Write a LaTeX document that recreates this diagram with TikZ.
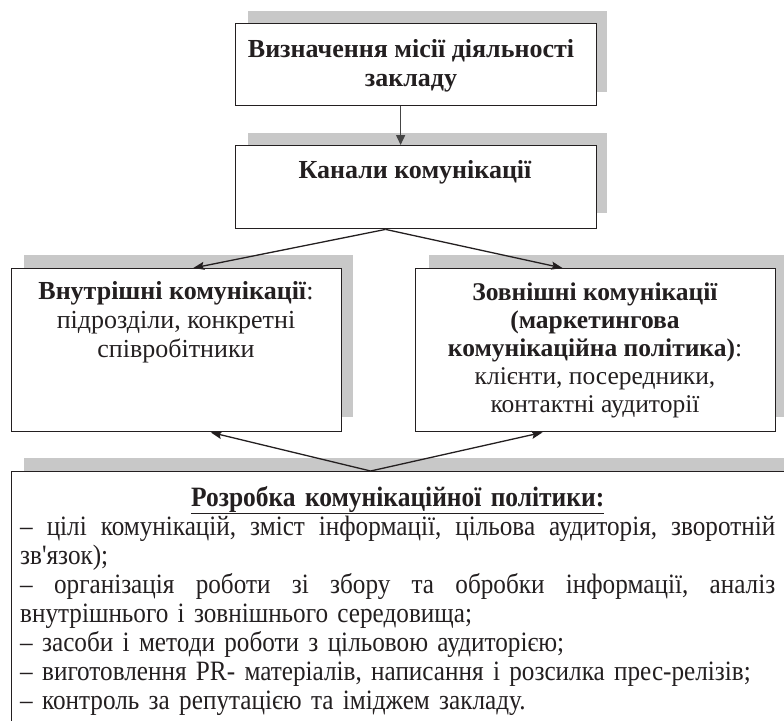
\documentclass[tikz,border=0pt]{standalone}
\usepackage{fontspec}
\setmainfont{Liberation Serif}
\newfontfamily\condfont[FakeStretch=0.9]{Liberation Serif}
\newfontfamily\condtitle[FakeStretch=0.91]{Liberation Serif}
\usetikzlibrary{arrows.meta,calc}
\definecolor{ink}{HTML}{231F20}
\definecolor{shade}{HTML}{C8C8C8}
\definecolor{darkarrow}{HTML}{454545}
\tikzset{
  box/.style={draw=ink, line width=1.4pt, fill=white, anchor=north west, inner sep=0pt},
  shadowbox/.style={fill=shade, draw=none},
  boxtext/.style={text=ink, align=center, inner sep=0pt, anchor=base},
  arr/.style={draw=ink, line width=1.3pt, -{Stealth[length=11pt,width=8pt,inset=2pt]}},
  grayarr/.style={draw=darkarrow, line width=1.5pt, -{Triangle[length=10pt,width=9pt]}},
}
\begin{document}
\begin{tikzpicture}[x=1pt,y=-1pt]
\useasboundingbox (0,0) rectangle (784,720);
\clip (0,0) rectangle (784,720);
% shadows
\fill[shadowbox] (248,11) rectangle (607,92);
\fill[shadowbox] (248,133) rectangle (607,213);
\fill[shadowbox] (24,255) rectangle (353,417);
\fill[shadowbox] (429,255) rectangle (790,417);
\fill[shadowbox] (24,458) rectangle (800,480);
% boxes
\node[box, minimum width=361pt, minimum height=82pt] (b1) at (235,23) {};
\node[box, minimum width=361pt, minimum height=83pt] (b2) at (235,145) {};
\node[box, minimum width=330pt, minimum height=163pt] (b3) at (11,268) {};
\node[box, minimum width=360pt, minimum height=163pt] (b4) at (415,268) {};
\node[box, minimum width=790pt, minimum height=300pt] (b5) at (11,471) {};
% texts (base = baseline of the last line)
\node[boxtext, font=\fontsize{26}{29}\selectfont\bfseries] (t1) at (411,86) {Визначення місії діяльності\\закладу};
\node[boxtext, font=\fontsize{26}{29}\selectfont\bfseries] (t2) at (415,178) {Канали комунікації};
\node[boxtext, font=\fontsize{26}{29}\selectfont] (t3) at (176,357) {\textbf{Внутрішні комунікації}:\\підрозділи, конкретні\\співробітники};
\node[boxtext, font=\fontsize{25.5}{28}\selectfont] (t4) at (595,412) {\textbf{Зовнішні комунікації}\\\textbf{(маркетингова}\\\textbf{комунікаційна політика)}:\\клієнти, посередники,\\контактні аудиторії};
\node[text=ink, inner sep=0pt, anchor=base west, text width=755pt, align=justify, font=\condfont\fontsize{28}{29}\selectfont] (t5) at (20,506) {%
\parindent=0pt\frenchspacing\spaceskip=.3333em plus .4em minus .05em\relax
{\centering\condtitle\bfseries\underline{Розробка комунікаційної політики:}\par}
– цілі комунікацій, зміст інформації, цільова аудиторія, зворотній\linebreak зв'язок);\par
– організація роботи зі збору та обробки інформації, аналіз\linebreak внутрішнього і зовнішнього середовища;\par
– засоби і методи роботи з цільовою аудиторією;\par
– виготовлення PR- матеріалів, написання і розсилка прес-релізів;\par
– контроль за репутацією та іміджем закладу.\par};
% connectors
\coordinate (b2out) at ($(b2.south west)!0.4155!(b2.south east)$);
\coordinate (b5out) at ($(b5.north west)!0.4544!(b5.north east)$);
\draw[grayarr] ($(b1.south west)!0.457!(b1.south east)$) -- ($(b2.north west)!0.457!(b2.north east)$);
\draw[arr] (b2out) -- ($(b3.north west)!0.55!(b3.north east)$);
\draw[arr] (b2out) -- ($(b4.north west)!0.408!(b4.north east)$);
\draw[arr] (b5out) -- ($(b3.south west)!0.603!(b3.south east)$);
\draw[arr] (b5out) -- ($(b4.south west)!0.353!(b4.south east)$);
\end{tikzpicture}
\end{document}
